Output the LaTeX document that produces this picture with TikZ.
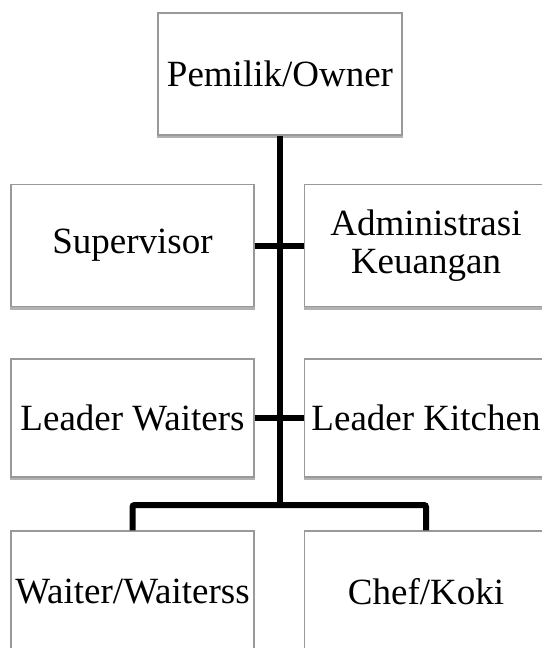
\documentclass[tikz,border=0pt]{standalone}
\usepackage{fontspec}
\setmainfont{Liberation Serif}
\usepackage{xcolor}
\definecolor{boxline}{rgb}{0.6,0.6,0.6}
\usetikzlibrary{positioning}
\usetikzlibrary{shadows}

\begin{document}
\begin{tikzpicture}[x=1pt, y=1pt,
    role/.style={draw=boxline, line width=1.2pt, fill=white, minimum width=243pt, minimum height=122pt, inner sep=0pt, align=center,
        font=\fontsize{37}{38}\selectfont,
        drop shadow={shadow xshift=0pt, shadow yshift=-2.5pt, shadow scale=1.008, opacity=0.3, fill=black}},
    link/.style={line width=6pt, draw=black}]

    \useasboundingbox (0,0) rectangle (541,-648);

    \node[role, minimum width=244pt] (owner) at (280,-74) {Pemilik/Owner};

    \node[role] (sup) at (132.5,-245.5) {Supervisor};
    \node[role] (adm) at (426,-245.5) {Administrasi\\Keuangan};

    \node[role, minimum height=118pt] (lwait) at (132.5,-418) {Leader Waiters};
    \node[role, minimum height=118pt] (lkitch) at (426,-418) {Leader Kitchen};

    \node[role] (waiter) at (132.5,-592) {Waiter/Waiterss};
    \node[role] (chef) at (426,-592) {Chef/Koki};

    \coordinate (bus) at (280,-505);

    \draw[link] (owner.south) -- (bus);
    \draw[link] (sup.east) -- (adm.west);
    \draw[link] (lwait.east) -- (lkitch.west);
    \draw[link, rounded corners=2pt] (waiter.north) |- (bus) -| (chef.north);

\end{tikzpicture}
\end{document}
